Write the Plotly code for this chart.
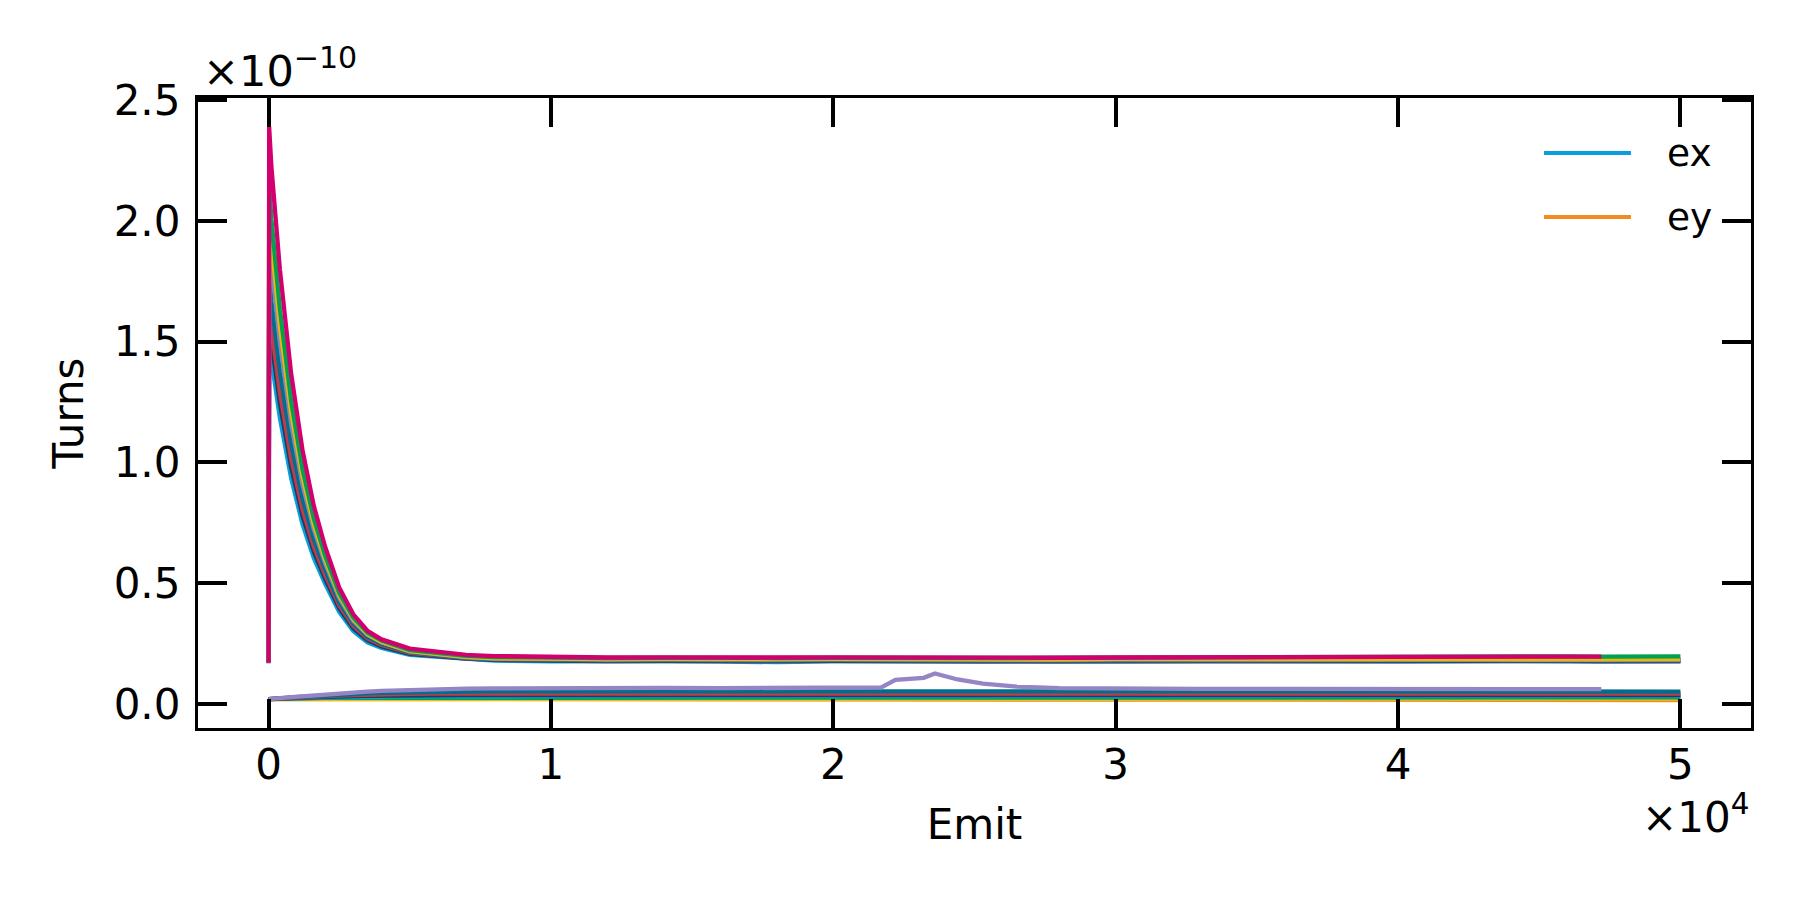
import numpy as np
import plotly.graph_objects as go

# Emit steps (shared x grid)
emit = [0, 20, 100, 400, 800, 1200, 1600, 2000, 2500, 3000, 3500, 4000, 5000, 6000, 7000, 8000, 10000,
        12000, 14000, 16000, 18000, 20000, 21500, 21700, 22200, 23200, 23600, 24400, 25300, 26500,
        28000, 30000, 33000, 36000, 40000, 43000, 46000, 47200, 50000]

# ex series (units of 1e-10)
ex_run0 = [0.170, 1.52, 1.427, 1.185, 0.935, 0.745, 0.604, 0.498, 0.381, 0.302, 0.255, 0.232, 0.203, 0.194, 0.184, 0.179, 0.176,
           0.174, 0.176, 0.175, 0.173, 0.176, 0.175, 0.174, 0.176, 0.175, 0.174, 0.173, 0.175, 0.176, 0.174, 0.175, 0.176, 0.174, 0.175, 0.176, 0.174, 0.175, 0.176]
ex_run1 = [0.168, 1.60, 1.502, 1.246, 0.981, 0.780, 0.631, 0.519, 0.396, 0.313, 0.264, 0.238, 0.207, 0.197, 0.187, 0.182, 0.178,
           0.177, 0.178, 0.176, 0.177, 0.178, 0.177, 0.176, 0.177, 0.178, 0.176, 0.177, 0.178, 0.177, 0.176, 0.177, 0.178, 0.177, 0.176, 0.177, 0.178, 0.177, 0.177]
ex_run2 = [0.172, 1.66, 1.558, 1.291, 1.016, 0.808, 0.652, 0.535, 0.409, 0.323, 0.271, 0.244, 0.211, 0.201, 0.190, 0.185, 0.181,
           0.180, 0.181, 0.179, 0.180, 0.181, 0.180, 0.179, 0.181, 0.180, 0.179, 0.180, 0.181, 0.180, 0.179, 0.180, 0.181, 0.179, 0.180, 0.181, 0.180, 0.179, 0.180]
ex_run3 = [0.170, 1.78, 1.669, 1.378, 1.077, 0.851, 0.683, 0.557, 0.422, 0.333, 0.277, 0.249, 0.214, 0.202, 0.191, 0.186, 0.182,
           0.181, 0.182, 0.180, 0.181, 0.182, 0.181, 0.180, 0.182, 0.181, 0.180, 0.181, 0.182, 0.181, 0.180, 0.181, 0.182, 0.180, 0.181, 0.182, 0.181, 0.180, 0.181]
ex_run4 = [0.171, 1.95, 1.825, 1.498, 1.160, 0.909, 0.724, 0.584, 0.440, 0.344, 0.286, 0.255, 0.217, 0.204, 0.193, 0.188, 0.184,
           0.183, 0.184, 0.182, 0.183, 0.184, 0.183, 0.182, 0.184, 0.183, 0.182, 0.183, 0.184, 0.183, 0.182, 0.183, 0.184, 0.182, 0.183, 0.184, 0.183, 0.182, 0.183]
ex_run5 = [0.169, 2.05, 1.916, 1.565, 1.207, 0.942, 0.745, 0.599, 0.450, 0.351, 0.289, 0.256, 0.218, 0.206, 0.195, 0.189, 0.186,
           0.185, 0.186, 0.184, 0.185, 0.186, 0.185, 0.184, 0.186, 0.185, 0.184, 0.185, 0.186, 0.185, 0.184, 0.186, 0.185, 0.184, 0.185, 0.186, 0.185, 0.184, 0.185]
ex_run6 = [0.170, 2.15, 2.007, 1.635, 1.254, 0.974, 0.768, 0.615, 0.460, 0.358, 0.295, 0.262, 0.223, 0.210, 0.199, 0.194, 0.191,
           0.190, 0.191, 0.189, 0.190, 0.191, 0.190, 0.189, 0.191, 0.190, 0.189, 0.190, 0.191, 0.190, 0.191, 0.192, 0.193, 0.195, 0.197, 0.198, 0.197, 0.196, 0.197]
ex_run7 = [0.170, 2.39, 2.225, 1.800, 1.367, 1.052, 0.821, 0.652, 0.482, 0.371, 0.303, 0.267, 0.229, 0.214, 0.203, 0.198, 0.193,
           0.192, 0.193, 0.191, 0.192, 0.193, 0.192, 0.191, 0.193, 0.192, 0.191, 0.192, 0.193, 0.192, 0.191, 0.192, 0.193, 0.194, 0.193, 0.194, 0.195, 0.196, None]

# ey series (units of 1e-10)
ey_run0 = [0.020, 0.020, 0.020, 0.019, 0.019, 0.018, 0.018, 0.018, 0.017, 0.017, 0.017, 0.016, 0.016, 0.016, 0.016, 0.016, 0.016,
           0.016, 0.016, 0.016, 0.016, 0.016, 0.016, 0.016, 0.016, 0.016, 0.016, 0.016, 0.016, 0.016, 0.016, 0.016, 0.016, 0.016, 0.016, 0.016, 0.016, 0.016, 0.016]
ey_run1 = [0.020, 0.020, 0.020, 0.020, 0.021, 0.021, 0.021, 0.022, 0.022, 0.022, 0.022, 0.022, 0.022, 0.022, 0.022, 0.022, 0.022,
           0.022, 0.022, 0.022, 0.022, 0.022, 0.022, 0.022, 0.022, 0.022, 0.022, 0.022, 0.022, 0.022, 0.022, 0.022, 0.022, 0.022, 0.022, 0.022, 0.022, 0.022, 0.022]
ey_run2 = [0.020, 0.020, 0.020, 0.021, 0.022, 0.023, 0.024, 0.025, 0.025, 0.026, 0.026, 0.026, 0.027, 0.027, 0.027, 0.027, 0.027,
           0.027, 0.027, 0.027, 0.027, 0.027, 0.027, 0.027, 0.027, 0.027, 0.027, 0.027, 0.027, 0.027, 0.027, 0.027, 0.027, 0.027, 0.027, 0.027, 0.027, 0.027, 0.027]
ey_run3 = [0.020, 0.020, 0.020, 0.021, 0.023, 0.024, 0.026, 0.027, 0.028, 0.029, 0.030, 0.030, 0.031, 0.031, 0.032, 0.032, 0.032,
           0.032, 0.032, 0.032, 0.032, 0.032, 0.032, 0.032, 0.032, 0.032, 0.032, 0.032, 0.032, 0.032, 0.032, 0.032, 0.032, 0.032, 0.032, 0.032, 0.032, 0.032, 0.032]
ey_run4 = [0.020, 0.020, 0.020, 0.022, 0.024, 0.026, 0.028, 0.029, 0.031, 0.032, 0.033, 0.034, 0.035, 0.035, 0.036, 0.036, 0.036,
           0.036, 0.036, 0.036, 0.036, 0.036, 0.036, 0.036, 0.036, 0.036, 0.036, 0.036, 0.036, 0.036, 0.036, 0.036, 0.036, 0.036, 0.036, 0.036, 0.036, 0.036, 0.036]
ey_run5 = [0.020, 0.020, 0.021, 0.022, 0.025, 0.028, 0.030, 0.032, 0.034, 0.036, 0.038, 0.039, 0.041, 0.042, 0.042, 0.043, 0.043,
           0.043, 0.043, 0.043, 0.043, 0.043, 0.043, 0.043, 0.043, 0.043, 0.043, 0.043, 0.043, 0.043, 0.043, 0.043, 0.043, 0.043, 0.043, 0.043, 0.043, 0.043, 0.043]
ey_run6 = [0.020, 0.020, 0.021, 0.023, 0.027, 0.030, 0.033, 0.036, 0.039, 0.042, 0.044, 0.046, 0.049, 0.050, 0.051, 0.052, 0.052,
           0.052, 0.052, 0.052, 0.052, 0.052, 0.052, 0.052, 0.052, 0.052, 0.052, 0.052, 0.052, 0.052, 0.052, 0.052, 0.052, 0.052, 0.052, 0.051, 0.051, 0.051, 0.051]
ey_run7 = [0.020, 0.020, 0.021, 0.024, 0.028, 0.032, 0.036, 0.040, 0.044, 0.048, 0.051, 0.054, 0.058, 0.061, 0.063, 0.064, 0.066,
           0.066, 0.066, 0.065, 0.065, 0.064, 0.064, 0.068, 0.099, 0.108, 0.126, 0.101, 0.084, 0.071, 0.065, 0.063, 0.062, 0.062, 0.062, 0.062, 0.061, 0.061, None]

ex_series = [ex_run0, ex_run1, ex_run2, ex_run3, ex_run4, ex_run5, ex_run6, ex_run7]
ey_series = [ey_run0, ey_run1, ey_run2, ey_run3, ey_run4, ey_run5, ey_run6, ey_run7]

ex_colors = ["#0A9FDC", "#1F3B5E", "#C23B4B", "#006E8C", "#8087B6", "#EDB60F", "#00A24F", "#D2006F"]
ey_colors = ["#F28B20", "#E8C010", "#00A24F", "#0A9FDC", "#1F3B5E", "#C23B4B", "#006E8C", "#9585C4"]

SCALE = 1e-10
y_ticks = [0.0, 0.5, 1.0, 1.5, 2.0, 2.5]
x_ticks = [0, 1, 2, 3, 4, 5]

fig = go.Figure()
for ex, ey, cx, cy in zip(ex_series, ey_series, ex_colors, ey_colors):
    fig.add_trace(go.Scatter(x=emit, y=np.array(ex, dtype=float) * SCALE, mode="lines",
                             line=dict(color=cx, width=4.3), showlegend=False))
    fig.add_trace(go.Scatter(x=emit, y=np.array(ey, dtype=float) * SCALE, mode="lines",
                             line=dict(color=cy, width=4.3), showlegend=False))

FONT = "DejaVu Sans"
axis_common = dict(ticks="inside", ticklen=29, tickwidth=3.5, tickcolor="black",
                   showline=True, linewidth=3.3, linecolor="black", mirror="ticks",
                   showgrid=False, zeroline=False,
                   tickfont=dict(family=FONT, size=42, color="black"))

fig.update_layout(
    width=1800, height=900,
    margin=dict(l=190, r=57, t=90, b=180),
    plot_bgcolor="white", paper_bgcolor="white",
    font=dict(family=FONT, size=42, color="black"),
    showlegend=False,
    xaxis=dict(range=[-2500, 52500], tickvals=[v * 1e4 for v in x_ticks],
               ticktext=[str(v) for v in x_ticks], ticklabelstandoff=-3,
               title=dict(text="Emit", standoff=23, font=dict(family=FONT, size=42)),
               **axis_common),
    yaxis=dict(range=[-0.1 * SCALE, 2.51 * SCALE], tickvals=[v * SCALE for v in y_ticks],
               ticktext=[f"{v:.1f}" for v in y_ticks], ticklabelstandoff=6,
               title=dict(text="Turns", standoff=17, font=dict(family=FONT, size=42)),
               **axis_common),
)

# offset (multiplier) texts
fig.add_annotation(text="×10<sup>−10</sup>", xref="paper", yref="paper", x=0.002, y=1,
                   xanchor="left", yanchor="bottom", showarrow=False, yshift=0,
                   font=dict(family=FONT, size=43, color="black"))
fig.add_annotation(text="×10<sup>4</sup>", xref="paper", yref="paper", x=1, y=0,
                   xanchor="right", yanchor="top", showarrow=False, yshift=-57,
                   font=dict(family=FONT, size=42, color="black"))

# legend (frameless, top right)
legend_items = [("ex", ex_colors[0], 0.9127), ("ey", ey_colors[0], 0.8111)]
for name, col, yy in legend_items:
    fig.add_shape(type="line", xref="paper", yref="paper", x0=0.8667, x1=0.9227, y0=yy, y1=yy,
                  line=dict(color=col, width=4))
    fig.add_annotation(text=name, xref="paper", yref="paper", x=0.9446, y=yy, xanchor="left",
                       yanchor="middle", showarrow=False, font=dict(family=FONT, size=37.5, color="black"))

fig.write_html("out.html")
